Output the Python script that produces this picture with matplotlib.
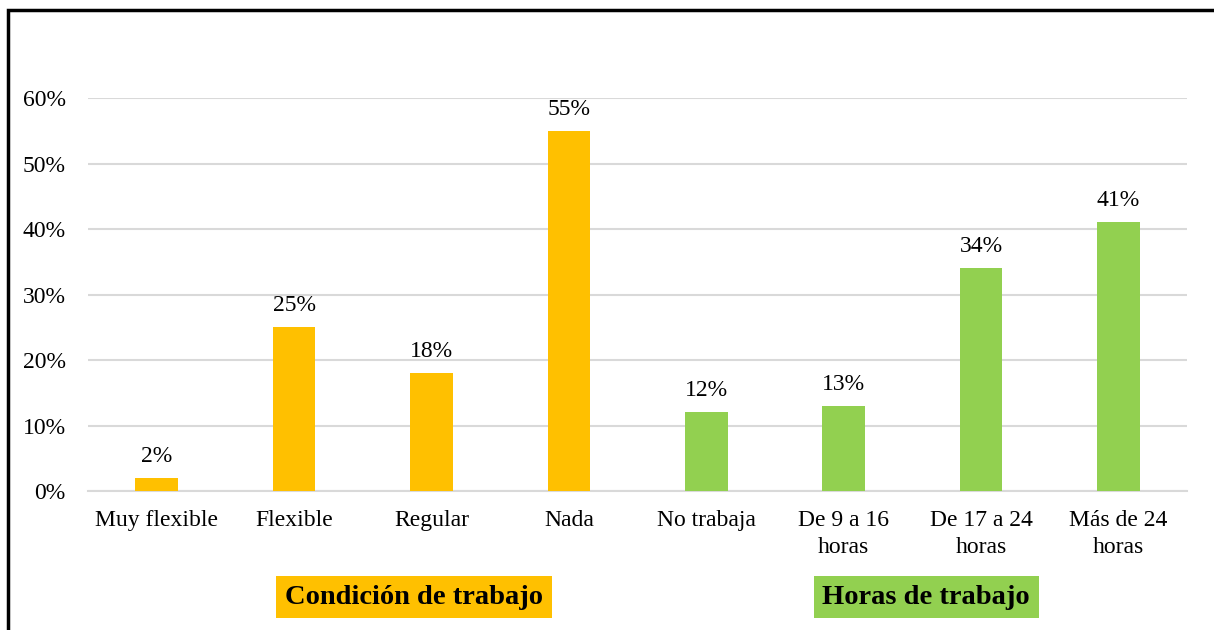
import matplotlib
matplotlib.use("Agg")
import matplotlib.pyplot as plt
from matplotlib.patches import Rectangle

# data
categories = ["Muy flexible", "Flexible", "Regular", "Nada",
              "No trabaja", "De 9 a 16\nhoras", "De 17 a 24\nhoras", "Más de 24\nhoras"]
values = [2, 25, 18, 55, 12, 13, 34, 41]
groups = ["Condición de trabajo"] * 4 + ["Horas de trabajo"] * 4
group_names = ["Condición de trabajo", "Horas de trabajo"]

colors = {"Condición de trabajo": "#FFC000", "Horas de trabajo": "#92D050"}

plt.rcParams['font.family'] = ['Liberation Serif', 'DejaVu Serif']

fig = plt.figure(figsize=(12.14, 6.3), dpi=100)
ax = fig.add_axes([0.0725, 0.2206, 0.9053, 0.6238])

xs = range(len(categories))
bars = ax.bar(xs, values, width=0.31, color=[colors[g] for g in groups], zorder=3)

for b, v in zip(bars, values):
    ax.annotate(f"{v}%", (b.get_x() + b.get_width() / 2, v),
                xytext=(0, 8), textcoords="offset points",
                ha="center", va="bottom", fontsize=17)

ax.set_xlim(-0.5, len(categories) - 0.5)
ax.set_ylim(0, 60)
ax.set_yticks(range(0, 61, 10))
ax.set_yticklabels([f"{t}%" for t in range(0, 61, 10)])
ax.set_xticks(list(xs))
ax.set_xticklabels(categories, linespacing=1.35)
ax.tick_params(axis="both", length=0, labelsize=17)
ax.tick_params(axis="y", pad=16)
ax.tick_params(axis="x", pad=14)
ax.grid(axis="y", color="#d9d9d9", linewidth=1.5, zorder=0)
for s in ["top", "right", "left"]:
    ax.spines[s].set_visible(False)
ax.spines["bottom"].set_color("#d9d9d9")
ax.spines["bottom"].set_linewidth(1.5)

# group labels
group_x = [0.341, 0.763]
for name, gx in zip(group_names, group_x):
    fig.text(gx, 0.052, name, ha="center", va="center", fontsize=20.5,
             fontweight="bold",
             bbox=dict(boxstyle="square,pad=0.3", facecolor=colors[name], edgecolor="none"))

# outer frame
fig.patches.append(Rectangle((8 / 1214, -0.1), 1.2, 1.1 - 10 / 630,
                             transform=fig.transFigure, fill=False,
                             edgecolor="black", linewidth=2.5))

fig.savefig("out.png", dpi=100)
